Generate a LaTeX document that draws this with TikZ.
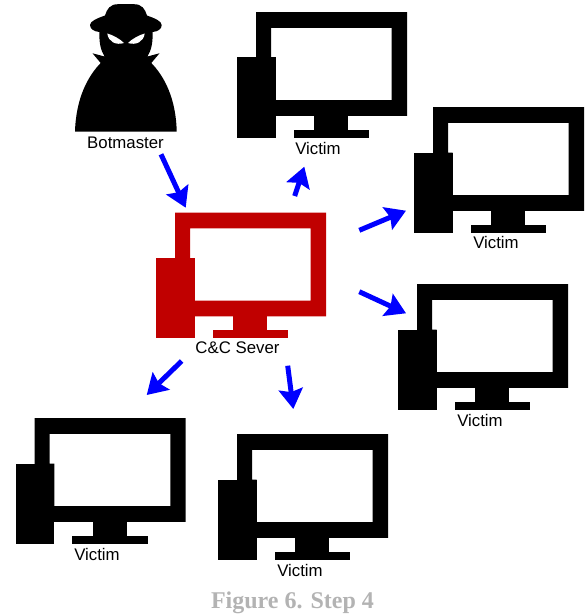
\documentclass[tikz,border=0pt]{standalone}
\usepackage{fontspec}
\setmainfont{Liberation Sans}
\newfontfamily\capfont{Liberation Serif}
\usetikzlibrary{arrows.meta}
\definecolor{ccred}{RGB}{192,0,0}
\definecolor{capgray}{RGB}{179,179,179}
\definecolor{flowblue}{RGB}{0,0,255}
\tikzset{
  x=1pt,y=-1pt,
  pics/monitor/.style={code={
    \fill[#1,even odd rule] (0,0) rectangle (151,103.6)
      (15,15.6) -- (135.7,15.6) -- (135.7,88) -- (19.7,88) -- (19.7,45.3) -- (15,45.3) -- cycle;
    \fill[#1] (-18.7,45.3) rectangle (19.7,125.6);
    \fill[#1] (58.3,103) rectangle (92.3,118);
    \fill[#1] (37.7,117.3) rectangle (113.3,125.6);
  }},
  lbl/.style={font=\fontsize{16.8}{18}\selectfont,text=black,inner sep=0pt,text height=12pt,text depth=3pt},
  flow/.style={draw=flowblue,line width=5pt,-{Stealth[length=20pt,width=24pt,inset=3pt,fill=flowblue]}}
}
\begin{document}
\begin{tikzpicture}
\useasboundingbox (0,0) rectangle (584,615);
% Botmaster figure
\fill[black] (75,131.5)
  .. controls (76,98) and (88,76) .. (100.7,63)
  -- (92.5,53.3) -- (104.5,56.5)
  .. controls (100.5,50) and (99,42) .. (99.5,32)
  .. controls (94,31.5) and (90,29) .. (90,25)
  .. controls (90,21) and (98,18) .. (105,15.5)
  .. controls (107,9) and (110,4.2) .. (118,4.2)
  -- (134,4.2)
  .. controls (142,4.2) and (145,9) .. (147,15.5)
  .. controls (154,18) and (161.7,21) .. (161.7,25)
  .. controls (161.7,29) and (158,31.5) .. (152.5,32)
  .. controls (153,42) and (151.5,50) .. (147.5,56.5)
  -- (159.5,53.3) -- (151.3,63)
  .. controls (164,76) and (176,98) .. (176.7,131.5) -- cycle;
\fill[white] (107.3,33.5) .. controls (113,35) and (120,39) .. (124,43)
  .. controls (116,45.5) and (108.5,42) .. (107.3,33.5) -- cycle;
\fill[white] (144.7,33.5) .. controls (139,35) and (132,39) .. (128,43)
  .. controls (136,45.5) and (143.5,42) .. (144.7,33.5) -- cycle;
\node[lbl] (botmaster) at (125.5,143.5) {Botmaster};
% Server and victims
\pic (server) at (175,212.7) {monitor=ccred};
\node[lbl] (serverlabel) at (237.5,349) {C\&C Sever};
\pic (vone) at (256,12.2) {monitor=black};
\node[lbl] (vonelabel) at (318,150) {Victim};
\pic (vtwo) at (433,107.2) {monitor=black};
\node[lbl] (vtwolabel) at (496,244) {Victim};
\pic (vthree) at (417,284.2) {monitor=black};
\node[lbl] (vthreelabel) at (480,422) {Victim};
\pic (vfour) at (34.7,418.2) {monitor=black};
\node[lbl] (vfourlabel) at (97,556) {Victim};
\pic (vfive) at (237,434.2) {monitor=black};
\node[lbl] (vfivelabel) at (300,572) {Victim};
% Arrow ends
\coordinate (a1s) at (161,154.3);   \coordinate (a1e) at (185.7,207.7);
\coordinate (a2s) at (294.7,196);   \coordinate (a2e) at (304.3,166.7);
\coordinate (a3s) at (359.3,230.3); \coordinate (a3e) at (406,210.7);
\coordinate (a4s) at (359.3,291.7); \coordinate (a4e) at (406,313.3);
\coordinate (a5s) at (181.7,361);   \coordinate (a5e) at (146.7,395);
\coordinate (a6s) at (287.7,365.7); \coordinate (a6e) at (293.3,409);
\draw[flow] (a1s) -- (a1e);
\draw[flow] (a2s) -- (a2e);
\draw[flow] (a3s) -- (a3e);
\draw[flow] (a4s) -- (a4e);
\draw[flow] (a5s) -- (a5e);
\draw[flow] (a6s) -- (a6e);
% Caption
\node[inner sep=0pt,text=capgray,font=\capfont\bfseries\fontsize{24}{26}\selectfont] (caption) at (292.5,603) {Figure 6. Step 4};
\end{tikzpicture}
\end{document}
